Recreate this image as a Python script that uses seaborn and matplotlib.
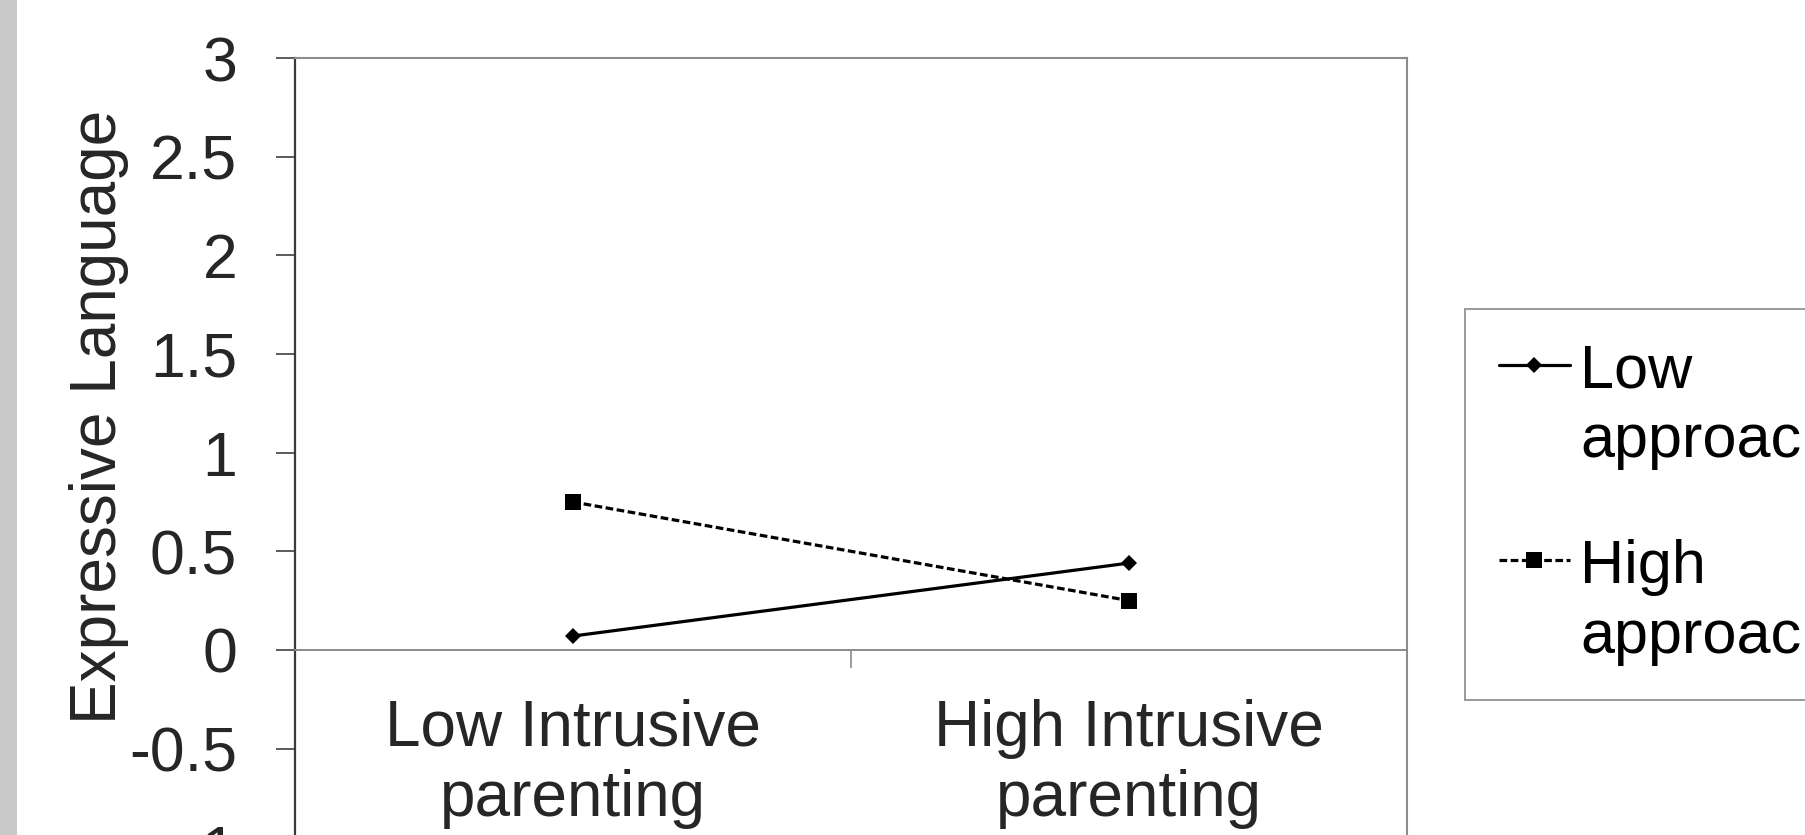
import matplotlib
matplotlib.use("Agg")
import matplotlib.pyplot as plt
import seaborn as sns
import pandas as pd
from matplotlib.patches import Rectangle
from matplotlib.ticker import FixedLocator

# ---- data ----
categories = ["Low Intrusive\nparenting", "High Intrusive\nparenting"]
series_names = ["Low\napproach", "High\napproach"]
low_approach = [0.07, 0.44]
high_approach = [0.75, 0.25]
y_ticks = [-1.5, -1, -0.5, 0, 0.5, 1, 1.5, 2, 2.5, 3]
y_tick_labels = ["-1.5", "-1", "-0.5", "0", "0.5", "1", "1.5", "2", "2.5", "3"]
y_label = "Expressive Language"

sns.set_theme(style="white")
plt.rcParams['font.family'] = ['Liberation Sans', 'DejaVu Sans']
plt.rcParams['axes.unicode_minus'] = False

W, H = 1805, 835
fig = plt.figure(figsize=(W / 100, H / 100), dpi=100)
fig.patch.set_facecolor("white")

# left grey strip of the slide
fig.patches.append(Rectangle((0, 0), 17 / W, 1, transform=fig.transFigure,
                             facecolor="#c9c9c9", edgecolor="none", zorder=-5))

left_px, right_px, top_px = 294.5, 1407, 58
unit_px = 197.3
ymin, ymax = -1.5, 3
ax_h_px = (ymax - ymin) * unit_px
ax = fig.add_axes([left_px / W, 1 - (top_px + ax_h_px) / H,
                   (right_px - left_px) / W, ax_h_px / H])

df = pd.DataFrame({
    "category": categories * 2,
    "value": low_approach + high_approach,
    "series": [series_names[0]] * 2 + [series_names[1]] * 2,
})

sns.lineplot(data=df, x="category", y="value", hue="series", style="series",
             palette=["black", "black"],
             markers={series_names[0]: "D", series_names[1]: "s"},
             dashes={series_names[0]: "", series_names[1]: (2.4, 1.1)},
             linewidth=2.3, markersize=10, markeredgecolor="black",
             markeredgewidth=0, legend=False, sort=False, ax=ax)

lines = ax.lines[:2]
lines[0].set_markersize(8.3)
lines[1].set_markersize(11)

ax.set_xlim(-0.5, 1.5)
ax.set_ylim(ymin, ymax)
ax.set_xticks([0, 1])
ax.set_xticklabels(categories)
ax.xaxis.set_minor_locator(FixedLocator([-0.5, 0.5, 1.5]))
ax.set_yticks(y_ticks)
ax.set_yticklabels(y_tick_labels)

ax.spines['bottom'].set_position(('data', 0))
ax.spines['bottom'].set_color('#8a8a8a')
ax.spines['bottom'].set_linewidth(1.4)
for s in ['top', 'right']:
    ax.spines[s].set_color('#8c8c8c')
    ax.spines[s].set_linewidth(1.5)
ax.spines['left'].set_color('#3a3a3a')
ax.spines['left'].set_linewidth(1.6)

ax.tick_params(axis='y', which='major', left=True, direction='out', length=13.7,
               width=1.2, color='#404040', pad=27.6, labelsize=45,
               labelcolor='#262626')
ax.tick_params(axis='x', which='major', bottom=True, length=0, pad=35,
               labelsize=46, labelcolor='#262626')
ax.tick_params(axis='x', which='minor', bottom=True, direction='out', length=13,
               width=1.2, color='#8a8a8a')
for t in ax.get_xticklabels():
    t.set_linespacing(1.23)

ax.set_xlabel("")
ax.set_ylabel(y_label, fontsize=46, color='#262626')
ax.yaxis.set_label_coords(129.5 / W, 1 - 416.7 / H, transform=fig.transFigure)

leg = ax.legend(lines, series_names, loc='upper left',
                bbox_to_anchor=(1465 / W, 1 - 309 / H),
                bbox_transform=fig.transFigure, fontsize=44, frameon=True,
                fancybox=False, edgecolor='#808080', facecolor='white',
                borderpad=0.56, labelspacing=1.12, handlelength=1.15,
                handletextpad=0.17, borderaxespad=0)
leg.get_frame().set_linewidth(1.4)
for t in leg.get_texts():
    t.set_linespacing(1.3)
    t.set_color('black')
for vp in leg._legend_handle_box.get_children():
    for hp in vp.get_children():
        hp.align = 'top'

fig.savefig("out.png", dpi=100)
